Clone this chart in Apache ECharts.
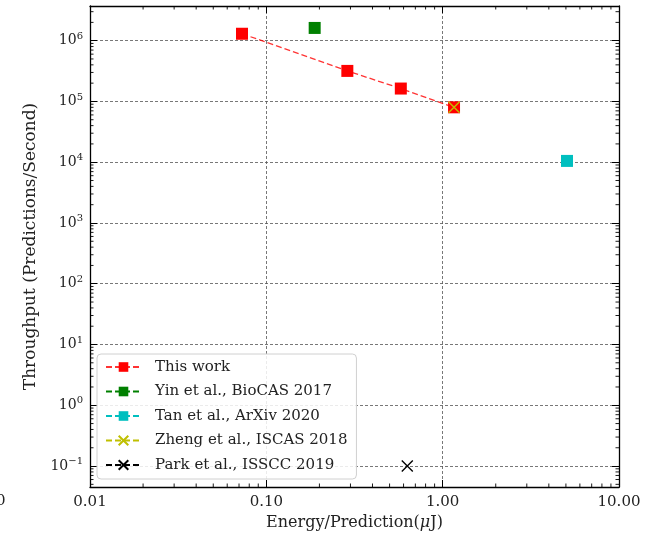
<!DOCTYPE html>
<html><head><meta charset="utf-8">
<script src="https://cdn.jsdelivr.net/npm/echarts@6/dist/echarts.min.js"></script>
<style>html,body{margin:0;padding:0;background:#fff}#c{width:664px;height:537px}</style>
</head><body><div id="c"></div>
<script>
// ---- data ----
const seriesNames = ['This work', 'Yin et al., BioCAS 2017', 'Tan et al., ArXiv 2020', 'Zheng et al., ISCAS 2018', 'Park et al., ISSCC 2019'];
const thisWorkEnergy = [0.0728, 0.288, 0.579, 1.16];
const thisWorkThroughput = [1.3e6, 3.18e5, 1.63e5, 8.0e4];
const yinEnergy = [0.188];
const yinThroughput = [1.62e6];
const tanEnergy = [5.07];
const tanThroughput = [1.05e4];
const zhengEnergy = [1.16];
const zhengThroughput = [8.0e4];
const parkEnergy = [0.63];
const parkThroughput = [0.1];
const xRange = [0.01, 10];
const yRange = [0.0452, 3.72e6];
const xDecades = [0.01, 0.1, 1];
const yDecades = [0.01, 0.1, 1, 10, 100, 1e3, 1e4, 1e5, 1e6];
const minorMultipliers = [2, 3, 4, 5, 6, 7, 8, 9];

// ---- helpers ----
const FONT = 'DejaVu Serif';
const TXT = '#222';
const zip = (xs, ys) => xs.map((x, i) => [x, ys[i]]);
const xMinor = [];
xDecades.forEach(d => minorMultipliers.forEach(m => { const v = m * d; if (v > xRange[0] && v < xRange[1]) xMinor.push([v, 1]); }));
const yMinor = [];
yDecades.forEach(d => minorMultipliers.forEach(m => { const v = m * d; if (v > yRange[0] && v < yRange[1]) yMinor.push([1, v]); }));

const MINOR_LEN = 3.5;
function minorX(params, api) {
  const cs = params.coordSys;
  const px = api.coord([api.value(0), 1])[0];
  const st = { stroke: '#000', lineWidth: 0.9 };
  return { type: 'group', children: [
    { type: 'line', shape: { x1: px, y1: cs.y + cs.height, x2: px, y2: cs.y + cs.height - MINOR_LEN }, style: st },
    { type: 'line', shape: { x1: px, y1: cs.y, x2: px, y2: cs.y + MINOR_LEN }, style: st }
  ]};
}
function minorY(params, api) {
  const cs = params.coordSys;
  const py = api.coord([1, api.value(1)])[1];
  const st = { stroke: '#000', lineWidth: 0.9 };
  return { type: 'group', children: [
    { type: 'line', shape: { x1: cs.x, y1: py, x2: cs.x + MINOR_LEN, y2: py }, style: st },
    { type: 'line', shape: { x1: cs.x + cs.width, y1: py, x2: cs.x + cs.width - MINOR_LEN, y2: py }, style: st }
  ]};
}

const axisLine = { show: true, onZero: false, lineStyle: { color: '#000', width: 1.3 } };
const majorTick = { show: true, inside: true, length: 7, lineStyle: { color: '#000', width: 1 } };
const gridLine = { show: true, showMinLine: false, showMaxLine: false, lineStyle: { color: '#555', width: 0.8, type: [3, 2] } };
const XSYM = 'path://M0,0L10,10M10,0L0,10';
const DASH = [6, 3];

const chart = echarts.init(document.getElementById('c'), null, { renderer: 'canvas' });
chart.setOption({
  animation: false,
  backgroundColor: '#fff',
  grid: { left: 90, right: 45, top: 6, bottom: 50 },
  graphic: [{ type: 'text', left: -4, top: 494, style: { text: '0', font: '15px "DejaVu Serif"', fill: TXT } }],
  xAxis: [
    { type: 'log', logBase: 10, min: xRange[0], max: xRange[1], position: 'bottom',
      axisLine: axisLine, axisTick: majorTick, splitLine: gridLine,
      axisLabel: { margin: 8, fontFamily: FONT, fontSize: 15, color: TXT, formatter: v => Number(v).toFixed(2) },
      name: '{a|Energy/Prediction(}{b|μ}{a|J)}', nameLocation: 'middle', nameGap: 26,
      nameTextStyle: { rich: { a: { fontFamily: FONT, fontSize: 16, color: TXT }, b: { fontFamily: FONT, fontSize: 16, fontStyle: 'italic', color: TXT } } } },
    { type: 'log', logBase: 10, min: xRange[0], max: xRange[1], position: 'top',
      axisLine: axisLine, axisTick: majorTick, splitLine: { show: false }, axisLabel: { show: false } }
  ],
  yAxis: [
    { type: 'log', logBase: 10, min: yRange[0], max: yRange[1], splitNumber: 8, position: 'left',
      axisLine: axisLine, axisTick: majorTick, splitLine: gridLine,
      axisLabel: { margin: 7, showMinLabel: false, showMaxLabel: false,
        formatter: v => { const e = Math.round(Math.log10(v)); return '{b|10}{s|' + (e < 0 ? '\u2212' + (-e) : e) + '}'; },
        rich: { b: { fontFamily: FONT, fontSize: 14, color: TXT }, s: { fontFamily: FONT, fontSize: 10, color: TXT, padding: [0, 0, 9, 0] } } },
      name: 'Throughput (Predictions/Second)', nameLocation: 'middle', nameGap: 47,
      nameTextStyle: { fontFamily: FONT, fontSize: 17, color: TXT } },
    { type: 'log', logBase: 10, min: yRange[0], max: yRange[1], splitNumber: 8, position: 'right',
      axisLine: axisLine, axisTick: majorTick, splitLine: { show: false }, axisLabel: { show: false } }
  ],
  legend: {
    data: seriesNames, orient: 'vertical', left: 97, top: 354,
    itemWidth: 35, itemHeight: 12, itemGap: 6.5,
    padding: [4, 9, 5, 8], backgroundColor: 'rgba(255,255,255,0.85)',
    borderColor: '#d0d0d0', borderWidth: 1, borderRadius: 4,
    textStyle: { fontFamily: FONT, fontSize: 15, color: TXT, lineHeight: 18, padding: [0, 0, 0, 9] }
  },
  series: [
    { name: seriesNames[0], type: 'line', data: zip(thisWorkEnergy, thisWorkThroughput),
      symbol: 'rect', symbolSize: 12, itemStyle: { color: '#ff0000' },
      lineStyle: { color: '#ff0000', width: 1.3, type: DASH, opacity: 0.8 }, z: 3 },
    { name: seriesNames[1], type: 'line', data: zip(yinEnergy, yinThroughput),
      symbol: 'rect', symbolSize: 12, itemStyle: { color: '#008000' },
      lineStyle: { color: '#008000', width: 1.3, type: DASH }, z: 3 },
    { name: seriesNames[2], type: 'line', data: zip(tanEnergy, tanThroughput),
      symbol: 'rect', symbolSize: 12, itemStyle: { color: '#00bfbf' },
      lineStyle: { color: '#00bfbf', width: 1.3, type: DASH }, z: 3 },
    { name: seriesNames[3], type: 'line', data: zip(zhengEnergy, zhengThroughput),
      symbol: XSYM, symbolSize: 11, itemStyle: { color: 'transparent', borderColor: '#bfbf00', borderWidth: 1.4 },
      lineStyle: { color: '#bfbf00', width: 1.3, type: DASH }, z: 4 },
    { name: seriesNames[4], type: 'line', data: zip(parkEnergy, parkThroughput),
      symbol: XSYM, symbolSize: 11, itemStyle: { color: 'transparent', borderColor: '#000', borderWidth: 1.4 },
      lineStyle: { color: '#000', width: 1.3, type: DASH }, z: 4 },
    { name: '_xminor', type: 'custom', data: xMinor, renderItem: minorX, silent: true, clip: false, z: 5 },
    { name: '_yminor', type: 'custom', data: yMinor, renderItem: minorY, silent: true, clip: false, z: 5 }
  ]
});
</script></body></html>
